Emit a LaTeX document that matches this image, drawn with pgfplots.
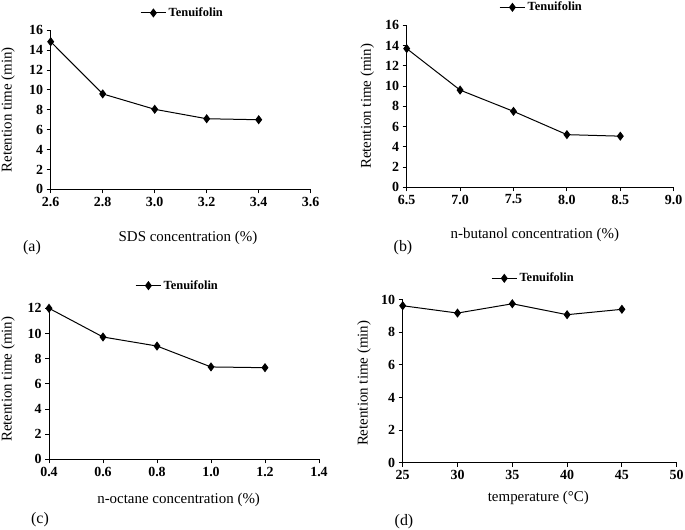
\documentclass[border=0pt]{standalone}
\usepackage{pgfplots}
\pgfplotsset{compat=1.18}
\usepackage{fontspec}
\setmainfont{Liberation Serif}
\pgfplotsset{
  legend image code/.code={\draw[mark repeat=2,mark phase=2,#1] plot coordinates {(0cm,0cm)(0.45cm,0cm)(0.9cm,0cm)};},
  tplot/.style={black, line width=1bp, mark=diamond*, mark size=3.8bp, mark options={solid, fill=black}},
  panel/.style={
    scale only axis,
    anchor=south west,
    axis lines=left,
    axis line style={-, line width=0.9bp},
    tick align=outside,
    major tick length=4bp,
    tick style={line width=0.9bp, black},
    ymin=0,
    /pgf/number format/assume math mode=true,
    ticklabel style={font=\bfseries\fontsize{14}{14}\selectfont},
    label style={font=\fontsize{15}{15}\selectfont},
    ylabel={Retention time (min)},
    legend style={draw=none, fill=none, font=\bfseries\fontsize{12.5}{12.5}\selectfont, inner sep=0pt, anchor=center},
  },
  onedec/.style={xticklabel style={/pgf/number format/.cd, fixed, fixed zerofill, precision=1}},
}
\begin{document}
\begin{tikzpicture}
\path[use as bounding box] (0,0) rectangle (685bp,530bp);

% (a)
\begin{axis}[panel, onedec,
  at={(50.7bp,340.7bp)}, width=260bp, height=159bp,
  xmin=2.6, xmax=3.6, xtick={2.6,2.8,3.0,3.2,3.4,3.6},
  ymax=16, ytick={0,2,4,6,8,10,12,14,16},
  xlabel={SDS concentration (\%)},
  xlabel style={at={(axis description cs:0.528,-0.306)}, anchor=center},
  ylabel style={at={(axis description cs:-0.164,0.5)}, anchor=center},
  legend style={at={(axis description cs:0.507,1.109)}},
]
\addplot[tplot] coordinates {(2.6,14.85) (2.8,9.6) (3.0,8.05) (3.2,7.1) (3.4,7.0)};
\addlegendentry{Tenuifolin}
\end{axis}

% (b)
\begin{axis}[panel, onedec,
  at={(406.7bp,342.7bp)}, width=267bp, height=162bp,
  xmin=6.5, xmax=9.0, xtick={6.5,7.0,7.5,8.0,8.5,9.0},
  ymax=16, ytick={0,2,4,6,8,10,12,14,16},
  xlabel={n-butanol concentration (\%)},
  xlabel style={at={(axis description cs:0.48,-0.296)}, anchor=center},
  ylabel style={at={(axis description cs:-0.148,0.5)}, anchor=center},
  legend style={at={(axis description cs:0.505,1.111)}},
]
\addplot[tplot] coordinates {(6.5,13.7) (7.0,9.6) (7.5,7.5) (8.0,5.2) (8.5,5.05)};
\addlegendentry{Tenuifolin}
\end{axis}

% (c)
\begin{axis}[panel, onedec,
  at={(49bp,70.7bp)}, width=270bp, height=151bp,
  xmin=0.4, xmax=1.4, xtick={0.4,0.6,0.8,1.0,1.2,1.4},
  ymax=12, ytick={0,2,4,6,8,10,12},
  xlabel={n-octane concentration (\%)},
  xlabel style={at={(axis description cs:0.48,-0.27)}, anchor=center},
  ylabel style={at={(axis description cs:-0.152,0.53)}, anchor=center},
  legend style={at={(axis description cs:0.476,1.15)}},
]
\addplot[tplot] coordinates {(0.4,12.0) (0.6,9.72) (0.8,9.0) (1.0,7.34) (1.2,7.28)};
\addlegendentry{Tenuifolin}
\end{axis}

% (d)
\begin{axis}[panel,
  at={(402.7bp,67.3bp)}, width=274bp, height=163bp,
  xmin=25, xmax=50, xtick={25,30,35,40,45,50},
  ymax=10, ytick={0,2,4,6,8,10},
  xlabel={temperature (°C)},
  xlabel style={at={(axis description cs:0.495,-0.217)}, anchor=center},
  ylabel style={at={(axis description cs:-0.141,0.487)}, anchor=center},
  legend style={at={(axis description cs:0.477,1.131)}},
]
\addplot[tplot] coordinates {(25,9.63) (30,9.18) (35,9.75) (40,9.08) (45,9.41)};
\addlegendentry{Tenuifolin}
\end{axis}

\node[font=\fontsize{16}{16}\selectfont] at (32bp,282bp) {(a)};
\node[font=\fontsize{16}{16}\selectfont] at (403bp,282bp) {(b)};
\node[font=\fontsize{16}{16}\selectfont] at (40bp,10.7bp) {(c)};
\node[font=\fontsize{16}{16}\selectfont] at (404bp,8bp) {(d)};
\end{tikzpicture}
\end{document}
